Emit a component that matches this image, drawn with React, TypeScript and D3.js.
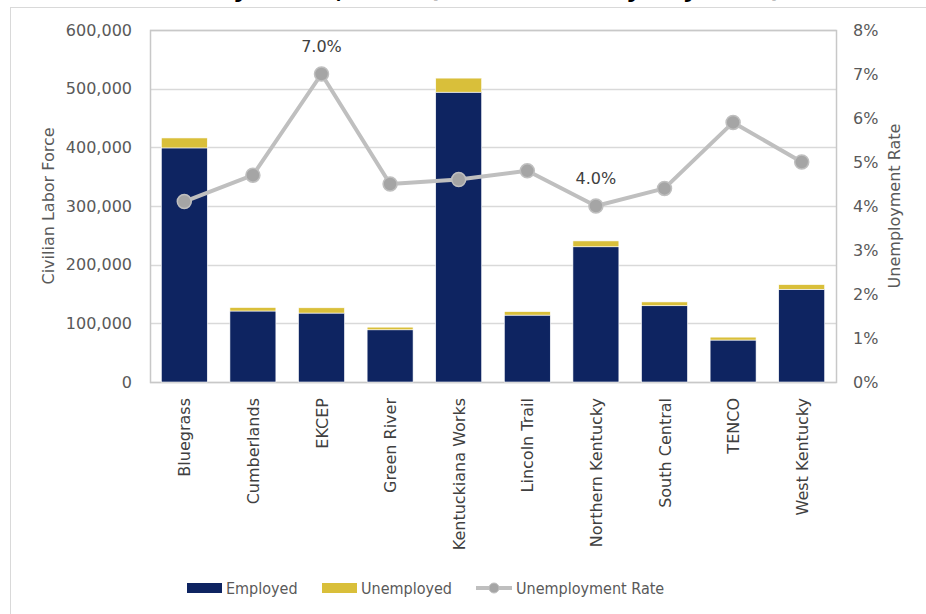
import React from "react";
import * as d3 from "d3";

const categories = ["Bluegrass", "Cumberlands", "EKCEP", "Green River", "Kentuckiana Works", "Lincoln Trail", "Northern Kentucky", "South Central", "TENCO", "West Kentucky"];
const employed = [399000, 121000, 117500, 89000, 494000, 114000, 230500, 130000, 71500, 158000];
const unemployed = [17000, 6000, 9000, 4500, 24000, 6000, 10000, 6500, 5000, 8000];
const rate = [0.041, 0.047, 0.070, 0.045, 0.046, 0.048, 0.040, 0.044, 0.059, 0.050];
const leftTicks = [0, 100000, 200000, 300000, 400000, 500000, 600000];
const rightTicks = [0, 0.01, 0.02, 0.03, 0.04, 0.05, 0.06, 0.07, 0.08];
const labeledPoints = ["EKCEP", "Northern Kentucky"];
const titleText = "Civilian Labor Force by LWDA, 2024 (Not Seasonally Adjusted)";

const NAVY = "#0E2461";
const GOLD = "#D9BF3A";
const LINE = "#BFBFBF";
const MARK = "#A5A5A5";
const TXT = "#595959";
const FONT = "'DejaVu Sans', Verdana, sans-serif";
const LFONT = "'DejaVu Sans Condensed', 'DejaVu Sans', sans-serif";

export default function App() {
  const W = 926, H = 614;
  const left = 150, right = 836, top = 30, bottom = 382;
  const x = d3.scaleBand<string>().domain(categories).range([left, right]).paddingInner(0.33).paddingOuter(0.165);
  const yL = d3.scaleLinear().domain([0, 600000]).range([bottom, top]);
  const yR = d3.scaleLinear().domain([0, 0.08]).range([bottom, top]);
  const cx = (c: string) => (x(c) as number) + x.bandwidth() / 2;
  const fmt = d3.format(",");
  const line = d3.line<number>().x((_, i) => cx(categories[i])).y((d) => yR(d));

  return (
    <svg width={W} height={H} style={{ position: "absolute", left: 0, top: 0, background: "#fff" }}>
      <text x={-60} y={-3} fontFamily={FONT} fontWeight="bold" fontSize={24} fill="#000">{titleText}</text>
      <rect x={10.5} y={7.5} width={940} height={640} fill="#fff" stroke="#D9D9D9" strokeWidth={1} />
      {/* gridlines */}
      {leftTicks.map((t) => (
        <line key={t} x1={left} x2={right} y1={Math.round(yL(t)) + 0.5} y2={Math.round(yL(t)) + 0.5} stroke="#D9D9D9" strokeWidth={1.5} />
      ))}
      <rect x={left + 0.5} y={top + 0.5} width={right - left} height={bottom - top} fill="none" stroke="#C8C8C8" strokeWidth={1.5} />
      {/* bars */}
      {categories.map((c, i) => (
        <g key={c}>
          <rect x={x(c)} y={yL(employed[i])} width={x.bandwidth()} height={yL(0) - yL(employed[i])} fill={NAVY} stroke="#fff" strokeWidth={0.6} />
          <rect x={x(c)} y={yL(employed[i] + unemployed[i])} width={x.bandwidth()} height={yL(employed[i]) - yL(employed[i] + unemployed[i])} fill={GOLD} stroke="#fff" strokeWidth={0.6} />
        </g>
      ))}
      {/* line */}
      <path d={line(rate) as string} fill="none" stroke={LINE} strokeWidth={4} strokeLinejoin="round" />
      {rate.map((r, i) => (
        <circle key={i} cx={cx(categories[i])} cy={yR(r)} r={7} fill={MARK} stroke={LINE} strokeWidth={1.5} />
      ))}
      {rate.map((r, i) =>
        labeledPoints.includes(categories[i]) ? (
          <text key={"l" + i} x={cx(categories[i])} y={yR(r) - 22} textAnchor="middle" fontFamily={FONT} fontSize={16} fill="#404040">
            {d3.format(".1%")(r)}
          </text>
        ) : null
      )}
      {/* left axis */}
      {leftTicks.map((t) => (
        <text key={t} x={132} y={yL(t)} dy="0.36em" textAnchor="end" fontFamily={FONT} fontSize={16} fill={TXT}>{fmt(t)}</text>
      ))}
      <text transform={`translate(54,${(top + bottom) / 2}) rotate(-90)`} textAnchor="middle" fontFamily={FONT} fontSize={16} fill={TXT}>Civilian Labor Force</text>
      {/* right axis */}
      {rightTicks.map((t) => (
        <text key={t} x={853} y={yR(t)} dy="0.36em" textAnchor="start" fontFamily={FONT} fontSize={16} fill={TXT}>{d3.format(".0%")(t)}</text>
      ))}
      <text transform={`translate(900,${(top + bottom) / 2}) rotate(-90)`} textAnchor="middle" fontFamily={FONT} fontSize={16} fill={TXT}>Unemployment Rate</text>
      {/* category labels */}
      {categories.map((c) => (
        <text key={c} transform={`translate(${cx(c) + 6},398) rotate(-90)`} textAnchor="end" fontFamily={FONT} fontSize={16} fill="#404040">{c}</text>
      ))}
      {/* legend */}
      <g fontFamily={LFONT} fontSize={16} fill={TXT} style={{ fontStretch: "condensed" }}>
        <rect x={187} y={583} width={35} height={10} fill={NAVY} />
        <text x={226} y={588} dy="0.36em">Employed</text>
        <rect x={322} y={583} width={35} height={10} fill={GOLD} />
        <text x={361} y={588} dy="0.36em">Unemployed</text>
        <line x1={476} x2={512} y1={588} y2={588} stroke={LINE} strokeWidth={4} />
        <circle cx={494} cy={588} r={5} fill={MARK} stroke={LINE} strokeWidth={1} />
        <text x={516} y={588} dy="0.36em">Unemployment Rate</text>
      </g>
    </svg>
  );
}
